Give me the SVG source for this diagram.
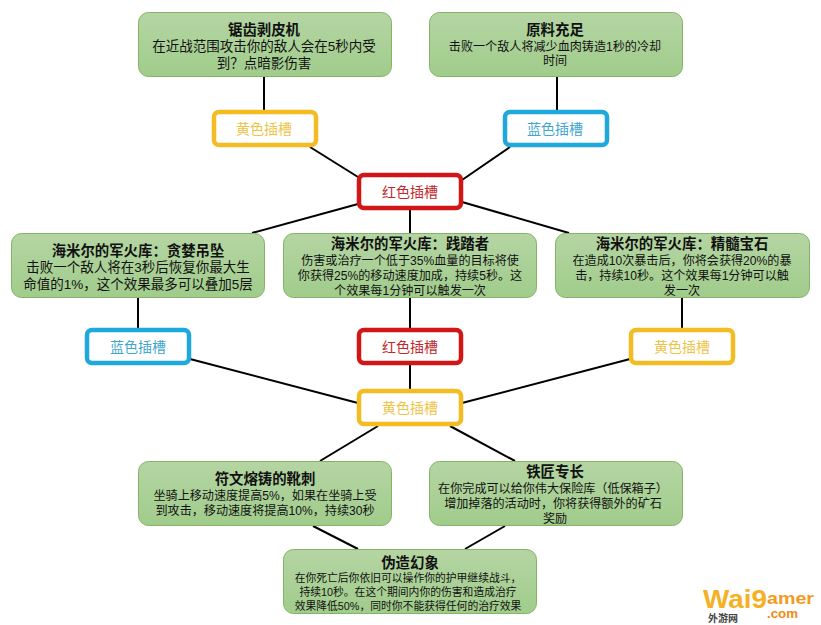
<svg xmlns="http://www.w3.org/2000/svg" width="821" height="625" viewBox="0 0 821 625">
<defs>
<linearGradient id="g" x1="0" y1="0" x2="0" y2="1"><stop offset="0" stop-color="#b5d5a3"/><stop offset="1" stop-color="#a0cc8b"/></linearGradient>
</defs>
<style>
text{font-family:"Liberation Sans","Noto Sans CJK SC",sans-serif;text-anchor:middle;fill:#111}
.n{fill:url(#g);stroke:#82b366;stroke-width:1}
.t{font-size:14.400px;font-weight:700}
.b{font-size:13.500px}
.b2{font-size:12.100px}
.b3{font-size:10.800px}
.s{fill:#fff;stroke-width:4.500}
.sl{font-size:14px}
.y rect{stroke:#f4bc23}.y text{fill:#eec447}
.l rect{stroke:#1fa8dc}.l text{fill:#3fa6cc}
.r rect{stroke:#d01616}.r text{fill:#c0282c}
#connectors line{stroke:#000;stroke-width:2}
.wm{font-weight:700;text-anchor:start}
</style>
<rect width="821" height="625" fill="#fff"/>
<g id="connectors">
<line x1="264" y1="77" x2="264" y2="111"/>
<line x1="557" y1="77" x2="557" y2="111"/>
<line x1="310" y1="147" x2="358" y2="177"/>
<line x1="510" y1="147" x2="462" y2="180"/>
<line x1="358" y1="204" x2="252" y2="233"/>
<line x1="462" y1="202" x2="569" y2="233"/>
<line x1="410" y1="210" x2="410" y2="233"/>
<line x1="138" y1="298" x2="138" y2="329"/>
<line x1="410" y1="298" x2="410" y2="390"/>
<line x1="682" y1="298" x2="682" y2="329"/>
<line x1="190" y1="359" x2="358" y2="403"/>
<line x1="630" y1="359" x2="462" y2="403"/>
<line x1="378" y1="426" x2="320" y2="461"/>
<line x1="450" y1="426" x2="515" y2="461"/>
<line x1="313" y1="526" x2="358" y2="549"/>
<line x1="505" y1="526" x2="465" y2="549"/>
</g>
<g id="n1"><rect class="n" x="138.500" y="12.500" width="253" height="64" rx="10"/><text class="t" x="264" y="35">锯齿剥皮机</text><text class="b" x="264" y="51">在近战范围攻击你的敌人会在5秒内受</text><text class="b" x="264" y="68">到？点暗影伤害</text></g>
<g id="n2"><rect class="n" x="429.500" y="12.500" width="253" height="64" rx="10"/><text class="t" x="555" y="35">原料充足</text><text class="b2" x="555" y="51">击败一个敌人将减少血肉铸造1秒的冷却</text><text class="b2" x="555" y="65">时间</text></g>
<g id="s1" class="y"><rect class="s" x="214" y="112" width="102" height="33" rx="5"/><text class="sl" x="264" y="134">黄色插槽</text></g>
<g id="s2" class="l"><rect class="s" x="505" y="112" width="102" height="33" rx="5"/><text class="sl" x="555" y="134">蓝色插槽</text></g>
<g id="s3" class="r"><rect class="s" x="359" y="175" width="102" height="33" rx="5"/><text class="sl" x="410" y="197">红色插槽</text></g>
<g id="n3"><rect class="n" x="11.500" y="233.500" width="253" height="64" rx="10"/><text class="t" x="138" y="256">海米尔的军火库：贪婪吊坠</text><text class="b" x="138" y="272">击败一个敌人将在3秒后恢复你最大生</text><text class="b" x="138" y="289">命值的1%，这个效果最多可以叠加5层</text></g>
<g id="n4"><rect class="n" x="283.500" y="233.500" width="253" height="64" rx="10"/><text class="t" x="410" y="249">海米尔的军火库：践踏者</text><text class="b2" x="410" y="265">伤害或治疗一个低于35%血量的目标将使</text><text class="b2" x="410" y="280">你获得25%的移动速度加成，持续5秒。这</text><text class="b2" x="410" y="295">个效果每1分钟可以触发一次</text></g>
<g id="n5"><rect class="n" x="555.500" y="233.500" width="254" height="64" rx="10"/><text class="t" x="682" y="249">海米尔的军火库：精髓宝石</text><text class="b2" x="682" y="265">在造成10次暴击后，你将会获得20%的暴</text><text class="b2" x="682" y="280">击，持续10秒。这个效果每1分钟可以触</text><text class="b2" x="682" y="295">发一次</text></g>
<g id="s4" class="l"><rect class="s" x="87" y="330" width="102" height="33" rx="5"/><text class="sl" x="138" y="352">蓝色插槽</text></g>
<g id="s5" class="r"><rect class="s" x="359" y="330" width="102" height="33" rx="5"/><text class="sl" x="410" y="352">红色插槽</text></g>
<g id="s6" class="y"><rect class="s" x="631" y="330" width="102" height="33" rx="5"/><text class="sl" x="682" y="352">黄色插槽</text></g>
<g id="s7" class="y"><rect class="s" x="359" y="391" width="102" height="33" rx="5"/><text class="sl" x="410" y="413">黄色插槽</text></g>
<g id="n6"><rect class="n" x="138.500" y="461.500" width="253" height="64" rx="10"/><text class="t" x="265" y="484">符文熔铸的靴刺</text><text class="b2" x="265" y="500">坐骑上移动速度提高5%，如果在坐骑上受</text><text class="b2" x="265" y="515">到攻击，移动速度将提高10%，持续30秒</text></g>
<g id="n7"><rect class="n" x="429.500" y="461.500" width="253" height="64" rx="10"/><text class="t" x="555" y="477">铁匠专长</text><text class="b2" x="553" y="493">在你完成可以给你伟大保险库（低保箱子）</text><text class="b2" x="553" y="508">增加掉落的活动时，你将获得额外的矿石</text><text class="b2" x="555" y="523">奖励</text></g>
<g id="n8"><rect class="n" x="283.500" y="549.500" width="253" height="64" rx="10"/><text class="t" x="410" y="568">伪造幻象</text><text class="b3" x="408" y="582">在你死亡后你依旧可以操作你的护甲继续战斗，</text><text class="b3" x="408" y="596">持续10秒。在这个期间内你的伤害和造成治疗</text><text class="b3" x="408" y="610">效果降低50%，同时你不能获得任何的治疗效果</text></g>
<g id="watermark">
<text class="wm" x="703" y="608" style="font-size:25px;fill:#f5b024" textLength="64" lengthAdjust="spacingAndGlyphs">Wai9</text>
<text class="wm" x="767" y="604" style="font-size:17px;fill:#f19a1e" textLength="47" lengthAdjust="spacingAndGlyphs">amer</text>
<text class="wm" x="767" y="618" style="font-size:12px;fill:#f08a14" textLength="31" lengthAdjust="spacingAndGlyphs">.com</text>
<text class="wm" x="708" y="622" style="font-size:10px;fill:#444">外游网</text>
</g>
</svg>
